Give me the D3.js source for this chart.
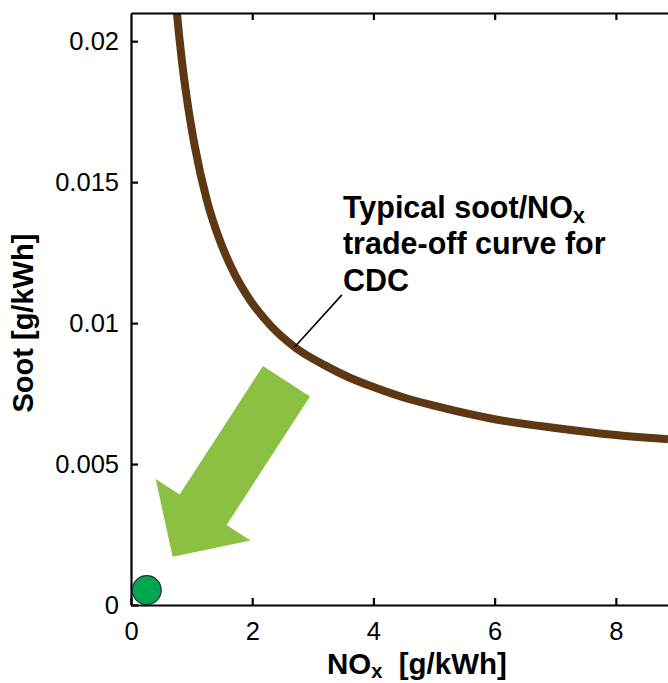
<!DOCTYPE html>
<html>
<head>
<meta charset="utf-8">
<script src="https://cdn.jsdelivr.net/npm/d3@7"></script>
<style>
  html, body { margin: 0; padding: 0; background: #fff; }
  svg { display: block; font-family: "Liberation Sans", Arial, sans-serif; }
</style>
</head>
<body>
<svg id="chart" width="668" height="683"></svg>
<script>
// ---- data ----
const curveNOx  = [0.726, 0.758, 0.84, 0.923, 1.05, 1.252, 1.45, 1.65, 1.96, 2.3, 2.7, 3.2, 3.6, 4.0, 4.5, 5.0, 6.0, 7.0, 8.0, 8.86];
const curveSoot = [0.0218, 0.0210, 0.0193, 0.01795, 0.0163, 0.01436, 0.01302, 0.0120, 0.01083, 0.00992, 0.00915, 0.0085, 0.00807, 0.00773, 0.00736, 0.00707, 0.00659, 0.00628, 0.00603, 0.00588];
const pointNOx  = [0.26];
const pointSoot = [0.00053];
const arrowFrom = [2.565, 0.00794];
const arrowTo   = [0.687, 0.00171];
const xTicks = [0, 2, 4, 6, 8];
const xTickLabels = ["0", "2", "4", "6", "8"];
const yTicks = [0, 0.005, 0.01, 0.015, 0.02];
const yTickLabels = ["0", "0.005", "0.01", "0.015", "0.02"];
const annotationLines = ["Typical soot/NO|x", "trade-off curve for", "CDC"];
const annotationAnchor = [3.497, 0.01373];
const leaderFrom = [3.48, 0.0110];
const leaderTo = [2.70, 0.00915];
const xTitle = ["NO", "x", "  [g/kWh]"];
const yTitle = "Soot [g/kWh]";

// ---- layout ----
const svg = d3.select("#chart");
const mLeft = 131, mTop = 13, mBottom = 605, mRight = 668;
const x = d3.scaleLinear().domain([0, 8.86]).range([mLeft, mRight]);
const y = d3.scaleLinear().domain([0, 0.021]).range([mBottom, mTop]);

svg.append("defs").append("clipPath").attr("id", "plotclip")
  .append("rect").attr("x", mLeft).attr("y", mTop).attr("width", mRight - mLeft).attr("height", mBottom - mTop);

// curve
const curveData = curveNOx.map((v, i) => [v, curveSoot[i]]);
svg.append("path")
  .attr("clip-path", "url(#plotclip)")
  .attr("d", d3.line().x(d => x(d[0])).y(d => y(d[1])).curve(d3.curveMonotoneX)(curveData))
  .attr("fill", "none").attr("stroke", "#5E3713").attr("stroke-width", 8);

// arrow
(function () {
  const x0 = x(arrowFrom[0]), y0 = y(arrowFrom[1]);
  const x1 = x(arrowTo[0]), y1 = y(arrowTo[1]);
  const dx = x1 - x0, dy = y1 - y0, L = Math.hypot(dx, dy);
  const ux = dx / L, uy = dy / L, nx = -uy, ny = ux;
  const shaftW = 56, headW = 113, headL = 56;
  const bx = x1 - ux * headL, by = y1 - uy * headL;
  const pts = [
    [x0 + nx * shaftW / 2, y0 + ny * shaftW / 2],
    [bx + nx * shaftW / 2, by + ny * shaftW / 2],
    [bx + nx * headW / 2, by + ny * headW / 2],
    [x1, y1],
    [bx - nx * headW / 2, by - ny * headW / 2],
    [bx - nx * shaftW / 2, by - ny * shaftW / 2],
    [x0 - nx * shaftW / 2, y0 - ny * shaftW / 2]
  ];
  svg.append("polygon").attr("points", pts.map(p => p.join(",")).join(" "))
    .attr("fill", "#8CC043");
})();

// leader line
svg.append("line")
  .attr("x1", x(leaderFrom[0])).attr("y1", y(leaderFrom[1]))
  .attr("x2", x(leaderTo[0])).attr("y2", y(leaderTo[1]))
  .attr("stroke", "#000").attr("stroke-width", 1.6);

// annotation text
const ann = svg.append("text")
  .attr("x", x(annotationAnchor[0])).attr("y", y(annotationAnchor[1]))
  .attr("font-size", 30.5).attr("font-weight", "bold").attr("fill", "#000");
annotationLines.forEach((ln, i) => {
  const parts = ln.split("|");
  ann.append("tspan").attr("x", x(annotationAnchor[0])).attr("dy", i === 0 ? 0 : 36.5).text(parts[0]);
  if (parts[1]) {
    ann.append("tspan").attr("font-size", 22).attr("dy", 5).text(parts[1]);
  }
});
// line after the subscript: compensate its downward shift
ann.selectAll("tspan").filter((d, i) => i === 2).attr("dy", 36.5 - 5);

// axes
const axL = d3.axisLeft(y).tickValues(yTicks).tickFormat((d, i) => yTickLabels[i])
  .tickSizeInner(-7).tickSizeOuter(0).tickPadding(12);
const gL = svg.append("g").attr("transform", `translate(${mLeft},0)`).call(axL);

const axB = d3.axisBottom(x).tickValues(xTicks).tickFormat((d, i) => xTickLabels[i])
  .tickSizeInner(-7).tickSizeOuter(0).tickPadding(17);
const gB = svg.append("g").attr("transform", `translate(0,${mBottom})`).call(axB);

const axT = d3.axisTop(x).tickValues(xTicks.slice(1)).tickFormat("")
  .tickSizeInner(-7).tickSizeOuter(0);
const gT = svg.append("g").attr("transform", `translate(0,${mTop})`).call(axT);

[gL, gB, gT].forEach(g => {
  g.selectAll("path.domain").attr("stroke", "#000").attr("stroke-width", 2.2);
  g.selectAll(".tick line").attr("stroke", "#000").attr("stroke-width", 2.2);
  g.selectAll(".tick text").attr("font-size", 25.5).attr("fill", "#000")
    .attr("font-family", "'Liberation Sans', Arial, sans-serif");
});

// point (drawn over axes)
svg.append("g").selectAll("circle").data(pointNOx).join("circle")
  .attr("cx", d => x(d)).attr("cy", (d, i) => y(pointSoot[i])).attr("r", 14.5)
  .attr("fill", "#00A650").attr("stroke", "#2b2b2b").attr("stroke-width", 1.2);

// axis titles
const xt = svg.append("text").attr("x", 327).attr("y", 674)
  .attr("font-size", 29.5).attr("font-weight", "bold");
xt.append("tspan").text(xTitle[0]);
xt.append("tspan").attr("font-size", 20).attr("dy", 4).text(xTitle[1]);
xt.append("tspan").attr("dy", -4).style("white-space", "pre").text(xTitle[2]);

svg.append("text").attr("transform", `translate(33,${(y(0.005) + y(0.015)) / 2}) rotate(-90)`)
  .attr("text-anchor", "middle").attr("font-size", 29).attr("font-weight", "bold").text(yTitle);
</script>
</body>
</html>
